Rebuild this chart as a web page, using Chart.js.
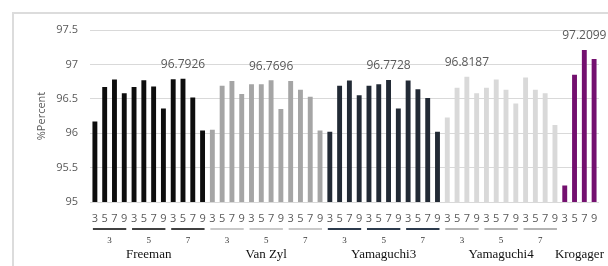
<!DOCTYPE html>
<html>
<head>
<meta charset="utf-8">
<script src="https://cdn.jsdelivr.net/npm/chart.js@4/dist/chart.umd.min.js"></script>
<style>
  html, body { margin: 0; padding: 0; background: #fff; }
  #wrap { width: 608px; height: 266px; position: relative; }
</style>
</head>
<body>
<div id="wrap"><canvas id="chart"></canvas></div>
<script>
// category levels
const groups = ['Freeman', 'Van Zyl', 'Yamaguchi3', 'Yamaguchi4', 'Krogager'];
const windowSizes = ['3', '5', '7'];
const filterSizes = ['3', '5', '7', '9'];

// values (%), 3 windows x 4 filters per method, Krogager only 4
const freeman    = [96.17, 96.67, 96.78, 96.58, 96.67, 96.77, 96.68, 96.36, 96.785, 96.7926, 96.52, 96.04];
const vanZyl     = [96.05, 96.69, 96.76, 96.57, 96.71, 96.71, 96.7696, 96.35, 96.76, 96.63, 96.53, 96.04];
const yamaguchi3 = [96.02, 96.69, 96.765, 96.55, 96.69, 96.71, 96.7728, 96.36, 96.765, 96.64, 96.51, 96.02];
const yamaguchi4 = [96.23, 96.66, 96.8187, 96.58, 96.66, 96.78, 96.63, 96.43, 96.81, 96.63, 96.58, 96.12];
const krogager   = [95.24, 96.85, 97.2099, 97.08];

const yTicks = [95, 95.5, 96, 96.5, 97, 97.5];

const series = [freeman, vanZyl, yamaguchi3, yamaguchi4, krogager];
const barColors  = ['#0d0d0d', '#a5a5a5', '#222a35', '#d9d9d9', '#74106f'];
const lineColors = ['#404040', '#c9c9c9', '#2c3a4c', '#b4b4b4', null];

const labels = [];
const values = [];
const colors = [];
series.forEach((vals, g) => {
    vals.forEach((v, i) => {
        labels.push(filterSizes[i % filterSizes.length]);
        values.push(v);
        colors.push(barColors[g]);
    });
});

const labelPlugin = {
    id: 'multiLevel',
    beforeDraw(chart) {
        const ctx = chart.ctx;
        ctx.save();
        ctx.strokeStyle = '#dcdcdc';
        ctx.lineWidth = 2;
        ctx.beginPath();
        ctx.moveTo(13, 266);
        ctx.lineTo(13, 13);
        ctx.lineTo(608, 13);
        ctx.stroke();
        ctx.restore();
    },
    afterDraw(chart) {
        const ctx = chart.ctx;
        const x = chart.scales.x;
        const y = chart.scales.y;
        ctx.save();
        let start = 0;
        series.forEach((vals, g) => {
            // value label on the best bar of each method
            let best = 0;
            vals.forEach((v, i) => { if (v > vals[best]) best = i; });
            const bx = x.getPixelForValue(start + best);
            const by = y.getPixelForValue(vals[best]);
            ctx.fillStyle = '#595959';
            ctx.font = '12px "Open Sans", sans-serif';
            ctx.textAlign = 'center';
            ctx.textBaseline = 'middle';
            ctx.fillText(String(vals[best]), bx, by - 14);

            // window-size underlines and labels
            if (vals.length > filterSizes.length) {
                windowSizes.forEach((w, k) => {
                    const a = x.getPixelForValue(start + k * 4);
                    const b = x.getPixelForValue(start + k * 4 + 3);
                    ctx.strokeStyle = lineColors[g];
                    ctx.lineWidth = 2;
                    ctx.beginPath();
                    ctx.moveTo(a - 2, 229);
                    ctx.lineTo(b + 2, 229);
                    ctx.stroke();
                    ctx.fillStyle = '#333';
                    ctx.font = '9px "Liberation Serif", serif';
                    ctx.fillText(w, (a + b) / 2, 241);
                });
            }

            // method name
            const first = x.getPixelForValue(start);
            const last = x.getPixelForValue(start + vals.length - 1);
            ctx.fillStyle = '#111';
            ctx.font = '13px "Liberation Serif", serif';
            ctx.fillText(groups[g], (first + last) / 2, 255);
            start += vals.length;
        });
        ctx.restore();
    }
};

new Chart(document.getElementById('chart'), {
    type: 'bar',
    data: {
        labels: labels,
        datasets: [{
            data: values,
            backgroundColor: colors,
            barPercentage: 0.5,
            categoryPercentage: 1,
        }]
    },
    options: {
        responsive: true,
        maintainAspectRatio: false,
        animation: false,
        layout: { padding: { left: 30, right: 9, top: 30, bottom: 0 } },
        plugins: {
            legend: { display: false },
            tooltip: { enabled: false }
        },
        scales: {
            x: {
                grid: { display: false, drawTicks: false },
                border: { display: false },
                ticks: {
                    color: '#595959',
                    font: { size: 11, family: '"Open Sans", sans-serif' },
                    padding: 10,
                    maxRotation: 0,
                    autoSkip: false
                },
                afterFit: (scale) => { scale.height = 64; }
            },
            y: {
                min: 95,
                max: 97.5,
                afterBuildTicks: (scale) => { scale.ticks = yTicks.map(v => ({ value: v })); },
                grid: { color: '#d9d9d9', drawTicks: false },
                border: { display: false },
                ticks: {
                    color: '#595959',
                    font: { size: 11, family: '"Open Sans", sans-serif' },
                    padding: 12,
                    callback: (v) => String(v)
                },
                title: {
                    display: true,
                    text: '%Percent',
                    color: '#595959',
                    font: { size: 11, family: '"Open Sans", sans-serif' },
                    padding: { top: 5, bottom: 0 }
                },
                afterFit: (scale) => { scale.width = 60; }
            }
        }
    },
    plugins: [labelPlugin]
});
</script>
</body>
</html>
